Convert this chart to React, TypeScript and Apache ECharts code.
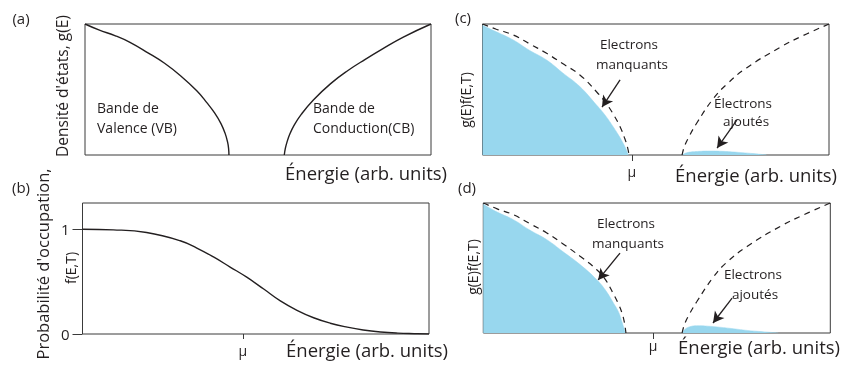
import React, { useEffect, useRef } from "react";
import * as echarts from "echarts";

// ---------- data (energy in arbitrary units 0..100) ----------
// (a) density of states
const vbE_a = [0, 4, 8.8, 13, 18.2, 23, 27.6, 32.3, 35.2, 37.5, 39.3, 40.5, 41.2, 41.5, 41.6];
const vbG_a = [1, 0.955, 0.91, 0.86, 0.78, 0.7, 0.605, 0.49, 0.4, 0.32, 0.24, 0.165, 0.1, 0.05, 0];
const cbE_a = [57.6, 57.9, 58.4, 59.2, 60.5, 62.5, 66, 71, 76, 81, 86, 92, 100];
const cbG_a = [0, 0.05, 0.1, 0.16, 0.23, 0.31, 0.42, 0.545, 0.645, 0.73, 0.81, 0.9, 1];

// (b) Fermi-Dirac occupation
const fermiE = [0, 8.9, 18.5, 28.2, 33, 37.8, 42.6, 47.4, 52.3, 57.1, 61.9, 66.7, 71.5, 76.4, 81, 86, 91, 95.7, 100];
const fermiF = [1, 0.994, 0.968, 0.89, 0.82, 0.735, 0.639, 0.542, 0.429, 0.316, 0.226, 0.155, 0.103, 0.065, 0.038, 0.019, 0.008, 0.003, 0];
const occTicks = [0, 1];

// (c)
const vbFillE_c = [0, 4, 8.9, 13.5, 18.5, 23, 28.1, 32.9, 35.5, 37.7, 39.3, 40.6, 41.5, 42.1];
const vbFillG_c = [0.99, 0.94, 0.878, 0.8, 0.725, 0.63, 0.522, 0.382, 0.3, 0.216, 0.15, 0.089, 0.04, 0];
const vbDosE_c = [0, 4, 8.9, 13.5, 18.5, 23, 28.1, 32.9, 35.8, 38, 39.7, 41, 41.8, 42.3];
const vbDosG_c = [1, 0.96, 0.916, 0.85, 0.776, 0.7, 0.611, 0.483, 0.39, 0.3, 0.216, 0.13, 0.064, 0];
const cbDosE_c = [57.6, 58.2, 59.4, 61.8, 66.6, 70.5, 76.2, 85.9, 92, 100];
const cbDosG_c = [0, 0.06, 0.13, 0.242, 0.43, 0.54, 0.665, 0.822, 0.905, 1];
const cbFillE_c = [57.6, 59, 62, 66, 70, 74, 78, 82];
const cbFillG_c = [0, 0.018, 0.027, 0.03, 0.027, 0.02, 0.011, 0];

// (d)
const vbFillE_d = [0, 4, 8.65, 13.5, 18.3, 23, 27.9, 32.7, 35.2, 37.5, 39, 39.9, 40.5, 40.9];
const vbFillG_d = [0.99, 0.93, 0.872, 0.79, 0.718, 0.625, 0.526, 0.41, 0.33, 0.231, 0.16, 0.09, 0.04, 0];
const vbDosE_d = [0, 4, 8.65, 13.5, 18.3, 23, 27.9, 32.7, 35.2, 37.5, 39, 39.9, 40.6, 41.1];
const vbDosG_d = [1, 0.955, 0.91, 0.84, 0.77, 0.685, 0.59, 0.487, 0.41, 0.3, 0.22, 0.16, 0.09, 0];
const cbDosE_d = [57.3, 57.9, 59.1, 61.5, 66.3, 70, 76, 85.7, 92, 100];
const cbDosG_d = [0, 0.06, 0.13, 0.24, 0.43, 0.54, 0.665, 0.822, 0.905, 1];
const cbFillE_d = [57.3, 58.2, 59.5, 61.5, 64, 68, 72, 76, 80, 85];
const cbFillG_d = [0, 0.03, 0.048, 0.056, 0.054, 0.045, 0.033, 0.02, 0.011, 0];

// chemical potential positions
const mu_b = 46.3;
const mu_c = 43.1;
const mu_d = 48.9;

const zip = (xs: number[], ys: number[]) => xs.map((x, i) => [x, ys[i]]);

const INK = "#231f20";
const BOX = "#3a3a3a";
const FILL = "#98d7ee";
const FONT = "Open Sans";
const SMOOTH = 0.45;

function xAx(gridIndex: number, mu?: number, margin = 8, tickLen = 6) {
  return {
    type: "value",
    gridIndex,
    min: 0,
    max: 100,
    axisLine: { show: false },
    splitLine: { show: false },
    axisTick: mu === undefined ? { show: false } : { show: true, customValues: [mu], length: tickLen, lineStyle: { color: BOX } },
    axisLabel:
      mu === undefined
        ? { show: false }
        : { show: true, customValues: [mu], formatter: () => "μ", fontSize: 14, color: INK, margin, fontFamily: FONT },
  };
}

function yAx(gridIndex: number, max: number, ticks?: number[]) {
  return {
    type: "value",
    gridIndex,
    min: 0,
    max,
    axisLine: { show: false },
    splitLine: { show: false },
    axisTick: ticks ? { show: true, customValues: ticks, length: 10, lineStyle: { color: BOX } } : { show: false },
    axisLabel: ticks
      ? { show: true, customValues: ticks, fontSize: 15, color: INK, margin: 13, fontFamily: FONT }
      : { show: false },
  };
}

const solid = (name: string, data: number[][], xi: number) => ({
  name,
  type: "line",
  xAxisIndex: xi,
  yAxisIndex: xi,
  data,
  showSymbol: false,
  smooth: SMOOTH,
  lineStyle: { color: INK, width: 1.4 },
  z: 5,
});

const dashed = (name: string, data: number[][], xi: number, extra: any = {}) => ({
  name,
  type: "line",
  xAxisIndex: xi,
  yAxisIndex: xi,
  data,
  showSymbol: false,
  smooth: SMOOTH,
  lineStyle: { color: INK, width: 1.2, type: [6, 5] },
  z: 5,
  ...extra,
});

const area = (name: string, data: number[][], xi: number) => ({
  name,
  type: "line",
  xAxisIndex: xi,
  yAxisIndex: xi,
  data,
  showSymbol: false,
  smooth: SMOOTH,
  lineStyle: { color: FILL, width: 0.5 },
  areaStyle: { color: FILL, opacity: 1 },
  z: 2,
});

const arrows = (pairs: number[][][]) => ({
  silent: true,
  symbol: ["none", "arrow"],
  symbolSize: [9, 11],
  label: { show: false },
  lineStyle: { color: INK, width: 1.3, type: "solid" },
  data: pairs.map((p) => [{ coord: p[0] }, { coord: p[1] }]),
});

const txt = (text: string, x: number, y: number, fontSize: number, align = "center", rot = 0) => ({
  type: "text",
  x,
  y,
  rotation: rot,
  style: { text, x: 0, y: 0, align, verticalAlign: "middle", fontSize, fill: INK, fontFamily: FONT },
});

export default function App() {
  const ref = useRef<HTMLDivElement>(null);
  useEffect(() => {
    if (!ref.current) return;
    const chart = echarts.init(ref.current, undefined, { renderer: "svg" });
    const gridStyle = { show: true, borderColor: BOX, borderWidth: 1, backgroundColor: "transparent", containLabel: false };
    const R = Math.PI / 2;
    chart.setOption({
      animation: false,
      textStyle: { fontFamily: FONT },
      grid: [
        { left: 85, top: 24, width: 346, height: 131, ...gridStyle },
        { left: 82.5, top: 203, width: 346.5, height: 131, ...gridStyle },
        { left: 482.5, top: 24, width: 346.5, height: 131, ...gridStyle },
        { left: 483.3, top: 203, width: 347, height: 130, ...gridStyle },
      ],
      xAxis: [xAx(0), xAx(1, mu_b, 9, 5), xAx(2, mu_c, 9, 6), xAx(3, mu_d, 5, 6)],
      yAxis: [yAx(0, 1), yAx(1, 1.25, occTicks), yAx(2, 1), yAx(3, 1)],
      series: [
        solid("VB", zip(vbE_a, vbG_a), 0),
        solid("CB", zip(cbE_a, cbG_a), 0),
        solid("f(E,T)", zip(fermiE, fermiF), 1),
        area("VB occupée (c)", zip(vbFillE_c, vbFillG_c), 2),
        area("CB occupée (c)", zip(cbFillE_c, cbFillG_c), 2),
        dashed("g(E) VB (c)", zip(vbDosE_c, vbDosG_c), 2, {
          markLine: arrows([
            [[39.7, 0.573], [34.5, 0.366]],
            [[73.4, 0.267], [67.7, 0.053]],
          ]),
        }),
        dashed("g(E) CB (c)", zip(cbDosE_c, cbDosG_c), 2),
        area("VB occupée (d)", zip(vbFillE_d, vbFillG_d), 3),
        area("CB occupée (d)", zip(cbFillE_d, cbFillG_d), 3),
        dashed("g(E) VB (d)", zip(vbDosE_d, vbDosG_d), 3, {
          markLine: arrows([
            [[39.4, 0.615], [33.1, 0.408]],
            [[71.7, 0.269], [66.2, 0.077]],
          ]),
        }),
        dashed("g(E) CB (d)", zip(cbDosE_d, cbDosG_d), 3),
      ],
      graphic: [
        txt("(a)", 21, 18, 15),
        txt("(b)", 21, 187, 15),
        txt("(c)", 463, 17, 15),
        txt("(d)", 467, 187, 15),
        txt("Densité d'états, g(E)", 62, 86, 15.5, "center", R),
        txt("Probabilité d'occupation,", 42, 264, 16.5, "center", R),
        txt("f(E,T)", 70, 268, 14, "center", R),
        txt("g(E)f(E,T)", 465, 100, 14, "center", R),
        txt("g(E)f(E,T)", 472, 267, 14, "center", R),
        txt("Énergie (arb. units)", 447, 172, 18.5, "right"),
        txt("Énergie (arb. units)", 448, 349, 18.5, "right"),
        txt("Énergie (arb. units)", 837, 174, 18.5, "right"),
        txt("Énergie (arb. units)", 840, 346, 18.5, "right"),
        txt("Bande de", 97, 107, 14, "left"),
        txt("Valence (VB)", 97, 127, 14, "left"),
        txt("Bande de", 313, 107, 14, "left"),
        txt("Conduction(CB)", 313, 127, 14, "left"),
        txt("Electrons", 629, 44, 13.5),
        txt("manquants", 632, 64, 13.5),
        txt("Électrons", 743, 103, 13.5),
        txt("ajoutés", 746, 121, 13.5),
        txt("Electrons", 626, 223, 13.5),
        txt("manquants", 628, 243, 13.5),
        txt("Electrons", 753, 274, 13.5),
        txt("ajoutés", 755, 294, 13.5),
      ],
    });
    return () => chart.dispose();
  }, []);
  return <div ref={ref} style={{ position: "fixed", left: 0, top: 0, width: 844, height: 365 }} />;
}
